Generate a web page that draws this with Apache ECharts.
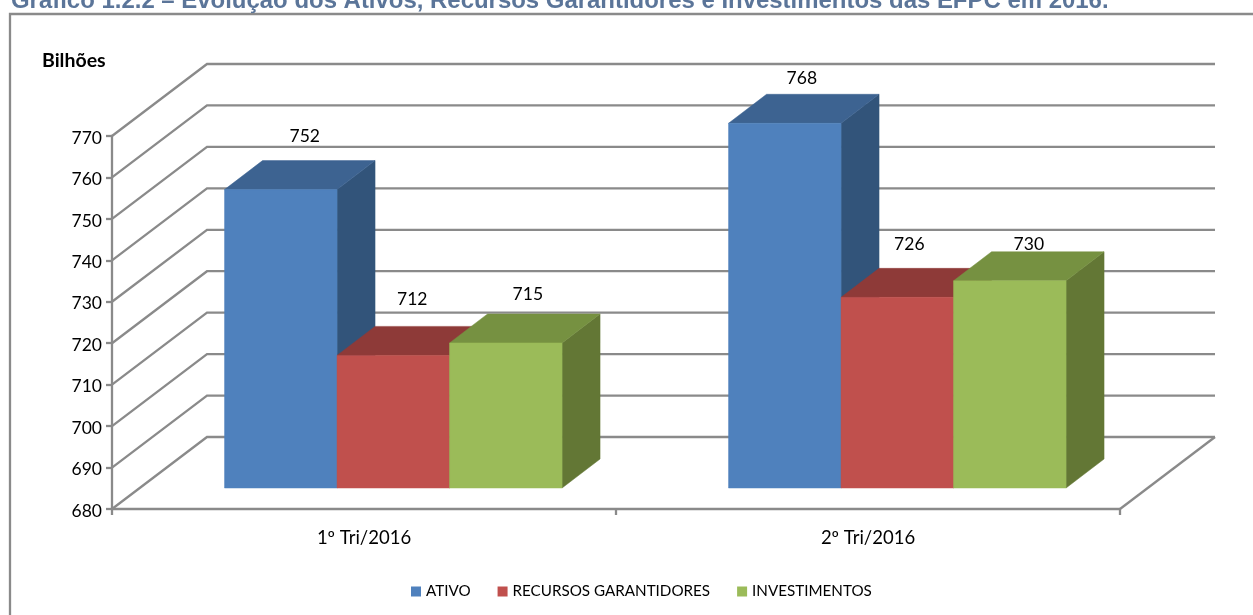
<!DOCTYPE html>
<html><head><meta charset="utf-8">
<style>html,body{margin:0;padding:0;background:#fff}#c{width:1253px;height:615px}</style>
<script src="https://cdn.jsdelivr.net/npm/echarts@6/dist/echarts.min.js"></script>
</head><body><div id="c"></div>
<script>
const categories = ['1º Tri/2016', '2º Tri/2016'];
const ativo = [752, 768];
const recursos = [712, 726];
const investimentos = [715, 730];
const yTicks = [680, 690, 700, 710, 720, 730, 740, 750, 760, 770];

const GRAY = '#8A8A8A';
const LINE_W = 2.3;
const WALL = {dx: 95, dy: 72};       // depth of the floor/wall
const BAR = {w: 112.5, dx: 38, dy: 29, inset: 21, groupShift: 29.3}; // 3D bar projection
const labelShift = {                 // hand-moved data labels: [dx from front centre, dy from back top]
  ATIVO: [[24, -24], [17, -16]],
  'RECURSOS GARANTIDORES': [[19, -27.5], [12, -24]],
  INVESTIMENTOS: [[22, -19.5], [19, -7]]
};

function gridRender(params, api) {
  const v = api.value(1);
  const cs = params.coordSys;
  const y = api.coord([0, v])[1];
  const children = [{
    type: 'polyline',
    shape: {points: [[cs.x, y], [cs.x + WALL.dx, y - WALL.dy], [cs.x + cs.width + WALL.dx, y - WALL.dy]]},
    style: {stroke: GRAY, lineWidth: LINE_W, fill: null}
  }];
  if (v === yTicks[0]) {
    children.push({
      type: 'line',
      shape: {x1: cs.x + cs.width, y1: y, x2: cs.x + cs.width + WALL.dx, y2: y - WALL.dy},
      style: {stroke: GRAY, lineWidth: LINE_W}
    });
  }
  return {type: 'group', children};
}

function barRender(pos, colors) {
  return function (params, api) {
    const idx = api.value(0);
    const val = api.value(1);
    const c = api.coord([idx, val]);
    const base = api.coord([idx, yTicks[0]]);
    const left = c[0] + BAR.groupShift + (pos - 1.5) * BAR.w;
    const right = left + BAR.w;
    const top = c[1] - BAR.inset;
    const bottom = base[1] - BAR.inset;
    const s = labelShift[params.seriesName][idx];
    const poly = (points, fill) => ({type: 'polygon', shape: {points}, style: {fill, stroke: fill, lineWidth: 0.5}});
    return {
      type: 'group',
      children: [
        poly([[right, top], [right + BAR.dx, top - BAR.dy], [right + BAR.dx, bottom - BAR.dy], [right, bottom]], colors[2]),
        poly([[left, top], [right, top], [right + BAR.dx, top - BAR.dy], [left + BAR.dx, top - BAR.dy]], colors[1]),
        poly([[left, top], [right, top], [right, bottom], [left, bottom]], colors[0]),
        {type: 'text', z2: 50, style: {
          text: String(val), x: left + BAR.w / 2 + s[0], y: top - BAR.dy + s[1],
          align: 'center', verticalAlign: 'middle',
          font: '17.5px Lato', fill: '#000'
        }}
      ]
    };
  };
}

const barSeries = (name, values, pos, colors) => ({
  type: 'custom', name, coordinateSystem: 'cartesian2d', clip: false,
  itemStyle: {color: colors[0]},
  renderItem: barRender(pos, colors),
  encode: {x: 0, y: 1},
  data: values.map((v, i) => [i, v]),
  z: 5 + pos
});

const chart = echarts.init(document.getElementById('c'), null, {renderer: 'canvas'});
chart.setOption({
  animation: false,
  backgroundColor: '#fff',
  textStyle: {fontFamily: 'Lato'},
  title: {
    text: 'Gráfico 1.2.2 – Evolução dos Ativos, Recursos Garantidores e Investimentos das EFPC em 2016.',
    left: 11, top: -11, padding: 0,
    textStyle: {fontFamily: 'Liberation Sans', fontWeight: 'bold', fontSize: 23.95, color: '#5B7599'}
  },
  graphic: [
    {type: 'rect', shape: {x: 10, y: 14, width: 1260, height: 640}, style: {fill: null, stroke: GRAY, lineWidth: LINE_W}, silent: true},
    {type: 'text', left: 42, top: 51, style: {text: 'Bilhões', font: 'bold 19.5px Lato', fill: '#000'}}
  ],
  legend: {
    left: 411, top: 584, padding: 0, icon: 'rect', itemWidth: 10, itemHeight: 10, itemGap: 27,
    textStyle: {fontFamily: 'Lato', fontSize: 15.2, color: '#000'},
    data: ['ATIVO', 'RECURSOS GARANTIDORES', 'INVESTIMENTOS']
  },
  grid: {left: 112, right: 133, top: 136, bottom: 106},
  xAxis: {
    type: 'category', data: categories,
    axisLine: {lineStyle: {color: GRAY, width: LINE_W}},
    axisTick: {show: true, length: 6, lineStyle: {color: GRAY, width: LINE_W}},
    axisLabel: {color: '#000', fontSize: 18.5, fontFamily: 'Lato', margin: 20},
    splitLine: {show: false}
  },
  yAxis: {
    type: 'value', min: 680, max: 770, interval: 10,
    axisLine: {show: true, lineStyle: {color: GRAY, width: LINE_W}},
    axisTick: {show: true, length: 6, lineStyle: {color: GRAY, width: LINE_W}},
    axisLabel: {
      margin: 10,
      formatter: '{t|{value}}',
      rich: {t: {color: '#000', fontSize: 17.5, fontFamily: 'Lato', padding: [4, 0, 0, 0]}}
    },
    splitLine: {show: false}
  },
  series: [
    {type: 'custom', name: 'grade', coordinateSystem: 'cartesian2d', clip: false, silent: true,
     renderItem: gridRender, encode: {x: 0, y: 1}, data: yTicks.map(v => [0, v]), z: 1},
    barSeries('ATIVO', ativo, 0, ['#4F81BD', '#3D6391', '#32547A']),
    barSeries('RECURSOS GARANTIDORES', recursos, 1, ['#C0504D', '#8E3A38', '#7A3230']),
    barSeries('INVESTIMENTOS', investimentos, 2, ['#9BBB59', '#769141', '#637735'])
  ]
});
</script></body></html>
